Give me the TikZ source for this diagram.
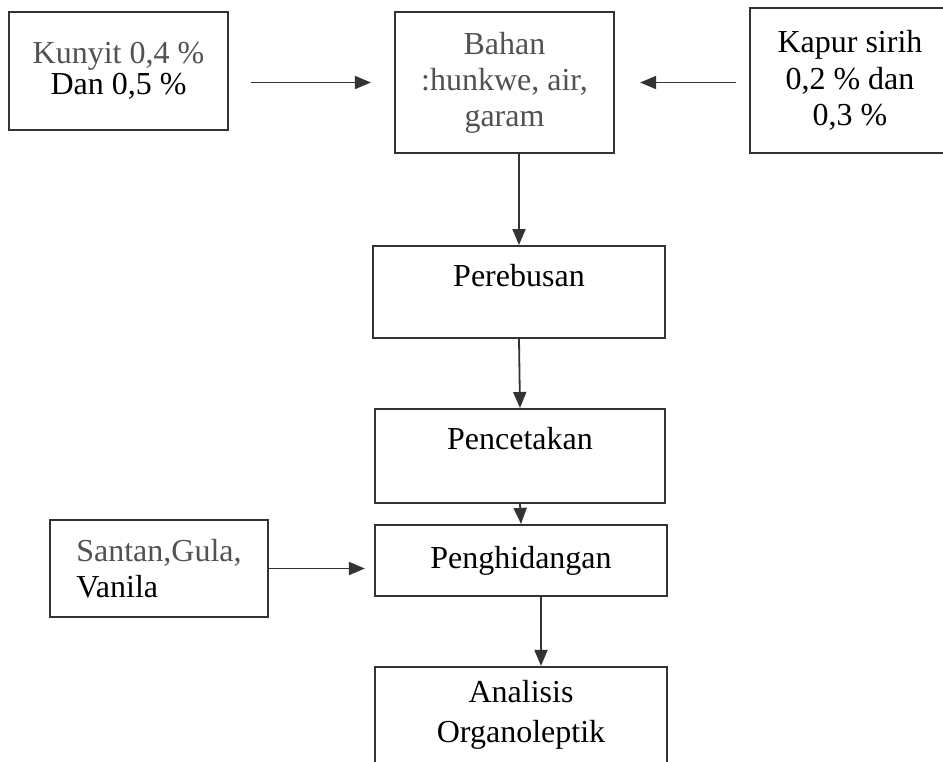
\documentclass[tikz,border=0pt]{standalone}
\usepackage{fontspec}
\setmainfont{Liberation Serif}
\usetikzlibrary{arrows.meta}
\definecolor{inkgray}{gray}{0.32}
\definecolor{edgegray}{gray}{0.2}

\begin{document}
\begin{tikzpicture}[x=1pt, y=-1pt,
    box/.style={draw=edgegray, line width=2.2pt, rectangle, align=center, font=\fontsize{32}{36}\selectfont},
    topbox/.style={box, anchor=north, inner ysep=0pt},
    flow/.style={-{Triangle[length=16pt,width=13pt]}, draw=edgegray, line width=1.8pt}]
  % page frame
  \clip (0,0) rectangle (943,761);
  \fill[white] (0,0) rectangle (943,761);

  % top row: additives and raw material
  \node[box, minimum width=219pt, minimum height=118pt, font=\fontsize{32}{31}\selectfont] (kunyit) at (118.5,71) {\textcolor{inkgray}{Kunyit 0,4 \%}\\Dan 0,5 \%};
  \node[box, minimum width=219pt, minimum height=141pt, text=inkgray, font=\fontsize{32}{36}\selectfont] (bahan) at (504.5,82.5) {Bahan\\:hunkwe, air,\\garam};
  \node[box, minimum width=200pt, minimum height=145pt, font=\fontsize{32}{36.5}\selectfont] (kapur) at (850,80.5) {Kapur sirih\\0,2 \% dan\\0,3 \%};

  % process steps
  \node[topbox, minimum width=292pt, text height=40pt, text depth=52pt] (rebus) at (519,245) {Perebusan};
  \node[topbox, minimum width=290pt, text height=40pt, text depth=54pt] (cetak) at (520,408) {Pencetakan};
  \node[box, minimum width=292pt, minimum height=71pt] (hidang) at (521,560.5) {Penghidangan};
  \node[box, minimum width=218pt, minimum height=97pt, align=left] (santan) at (159,568.5) {\textcolor{inkgray}{Santan,Gula,}\\Vanila};
  \node[box, minimum width=292pt, minimum height=96pt, font=\fontsize{32}{40}\selectfont] (analisis) at (521,715) {Analisis\\Organoleptik};

  % connectors
  \draw[flow, shorten <=22pt, shorten >=23pt] (kunyit.east |- bahan.west) -- (bahan.west);
  \draw[flow, shorten <=13pt, shorten >=25pt] (kapur.west |- bahan.east) -- (bahan.east);
  \draw[flow] (bahan.south -| rebus.north) -- (rebus.north);
  \draw[flow] (rebus.south) -- (cetak.north);
  \draw[flow] (cetak.south) -- (hidang.north);
  \draw[flow, shorten >=9pt] (santan.east) -- (santan.east -| hidang.west);
  \draw[flow] ([xshift=20pt]hidang.south) -- ([xshift=20pt]analisis.north);
\end{tikzpicture}
\end{document}
